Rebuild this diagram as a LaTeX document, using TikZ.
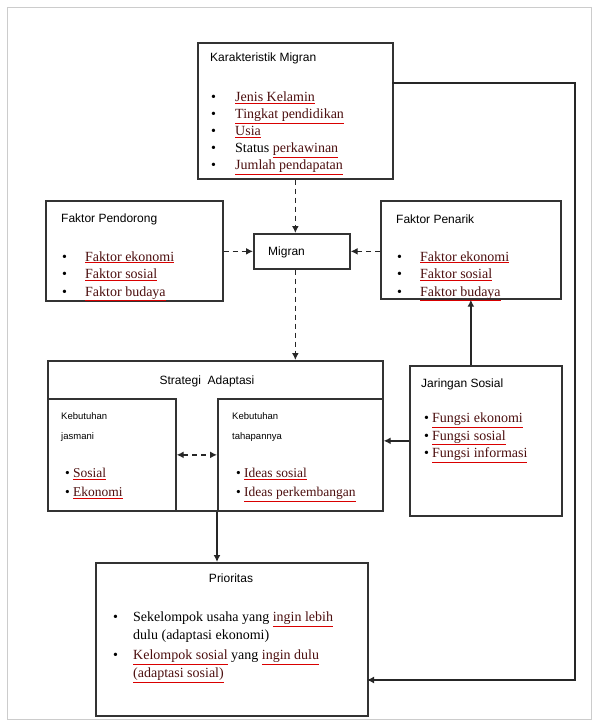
\documentclass[tikz,border=0pt]{standalone}
\usepackage{fontspec}
\setmainfont{Liberation Serif}
\newfontfamily\titlefont{Liberation Sans}
\usetikzlibrary{positioning}
\usetikzlibrary{arrows.meta}
\definecolor{itemtext}{rgb}{0.3,0.06,0.06}
\newcommand{\redline}[1]{{\color{red!85!black}\underline{\color{itemtext}#1}}}
\newcommand{\bul}[2]{\makebox[#1][l]{\textbullet}}

\begin{document}
\begin{tikzpicture}[x=1pt,y=-1pt,>={Latex[length=7pt,width=7pt]}]
    \tikzstyle{box lines}=[draw=black!80, line width=1.7pt, inner sep=0pt, anchor=north west]
    \tikzstyle{title text}=[inner sep=0pt, anchor=base west, font=\titlefont\fontsize{12}{20}\selectfont, align=left]
    \tikzstyle{small title}=[inner sep=0pt, anchor=base west, font=\titlefont\fontsize{9.5}{20}\selectfont, align=left]
    \tikzstyle{item text}=[inner sep=0pt, anchor=base west, font=\fontsize{14}{17}\selectfont, align=left]
    \tikzstyle{link}=[draw=black!85, line width=1.4pt, ->, dash pattern=on 5pt off 4pt]
    \tikzstyle{solid link}=[draw=black!85, line width=1.4pt, ->]

    \useasboundingbox (0,0) rectangle (598,725);
    \draw[black!20, line width=1pt] (7,8) rectangle (591,719); % outer frame

    % boxes
    \node[box lines, minimum width=195pt, minimum height=136pt] (karakteristik) at (197,42) {};
    \node[box lines, minimum width=177pt, minimum height=100pt] (pendorong) at (45,200) {};
    \node[box lines, minimum width=96pt, minimum height=35pt] (migran) at (253,233) {};
    \node[box lines, minimum width=180pt, minimum height=98pt] (penarik) at (380,200) {};
    \node[box lines, minimum width=335pt, minimum height=150pt] (strategi) at (47,360) {};
    \node[box lines, minimum width=128pt, minimum height=112pt] (jasmani) at (47,398) {};
    \node[box lines, minimum width=165pt, minimum height=112pt] (tahapan) at (217,398) {};
    \node[box lines, minimum width=152pt, minimum height=150pt] (jaringan) at (409,365) {};
    \node[box lines, minimum width=272pt, minimum height=153pt] (prioritas) at (95,562) {};

    % Karakteristik Migran (base = last line)
    \node[title text] (karakTitle) at (210,62) {Karakteristik Migran};
    \node[item text] (karakItems) at (211,169.5) {%
        \bul{24pt}{}\redline{Jenis Kelamin}\\
        \bul{24pt}{}\redline{Tingkat pendidikan}\\
        \bul{24pt}{}\redline{Usia}\\
        \bul{24pt}{}Status \redline{perkawinan}\\
        \bul{24pt}{}\redline{Jumlah pendapatan}};

    % Faktor Pendorong / Penarik
    \node[title text] (pendorongTitle) at (61,222) {Faktor Pendorong};
    \node[item text, font=\fontsize{14}{17.5}\selectfont] (pendorongItems) at (62,296) {%
        \bul{23pt}{}\redline{Faktor ekonomi}\\
        \bul{23pt}{}\redline{Faktor sosial}\\
        \bul{23pt}{}\redline{Faktor budaya}};
    \node[title text] (penarikTitle) at (396,223) {Faktor Penarik};
    \node[item text, font=\fontsize{14}{17.5}\selectfont] (penarikItems) at (397,296) {%
        \bul{23pt}{}\redline{Faktor ekonomi}\\
        \bul{23pt}{}\redline{Faktor sosial}\\
        \bul{23pt}{}\redline{Faktor budaya}};

    \node[title text] (migranText) at (268,255) {Migran};

    % Strategi Adaptasi
    \node[title text, anchor=base] (strategiTitle) at (207,384) {Strategi\ \ Adaptasi};
    \node[small title] (jasmaniTitle) at (61,439) {Kebutuhan\\jasmani};
    \node[item text, font=\fontsize{13.5}{19}\selectfont] (jasmaniItems) at (65,496.5) {%
        \bul{8pt}{}\redline{Sosial}\\
        \bul{8pt}{}\redline{Ekonomi}};
    \node[small title] (tahapanTitle) at (232,439) {Kebutuhan\\tahapannya};
    \node[item text, font=\fontsize{13.5}{19}\selectfont] (tahapanItems) at (236,496.5) {%
        \bul{8pt}{}\redline{Ideas sosial}\\
        \bul{8pt}{}\redline{Ideas perkembangan}};

    % Jaringan Sosial
    \node[title text] (jaringanTitle) at (421,387) {Jaringan Sosial};
    \node[item text, font=\fontsize{14}{17.5}\selectfont] (jaringanItems) at (424,457.5) {%
        \bul{8pt}{}\redline{Fungsi ekonomi}\\
        \bul{8pt}{}\redline{Fungsi sosial}\\
        \bul{8pt}{}\redline{Fungsi informasi}};

    % Prioritas
    \node[title text, anchor=base] (prioritasTitle) at (231,582) {Prioritas};
    \node[item text, font=\fontsize{14}{18}\selectfont] (prioritasItems) at (113,677.5) {%
        \bul{20pt}{}Sekelompok usaha yang \redline{ingin lebih}\\
        \hspace*{20pt}dulu (adaptasi ekonomi)\\[2pt]
        \bul{20pt}{}\redline{Kelompok sosial} yang \redline{ingin dulu}\\
        \hspace*{20pt}\redline{(adaptasi sosial)}};

    % connectors
    \draw[link] (karakteristik.south) -- (karakteristik.south |- migran.north);
    \draw[link] (pendorong.east |- migran.west) -- (migran.west);
    \draw[link] (penarik.west |- migran.east) -- (migran.east);
    \draw[link] (karakteristik.south |- migran.south) -- (karakteristik.south |- strategi.north);
    \draw[solid link] (penarik.south |- jaringan.north) -- (penarik.south);
    \draw[solid link] (jaringan.west) -- (jaringan.west -| tahapan.east);
    \draw[link, <->] (jasmani.east) -- (tahapan.west);
    \draw[solid link] (tahapan.south west) -- (tahapan.south west |- prioritas.north);

    \coordinate (karakOut) at (392,83);
    \coordinate (prioIn) at (367,680);
    \draw[solid link] (karakOut) -- (575,83) |- (prioIn); % long line on the right
\end{tikzpicture}
\end{document}
